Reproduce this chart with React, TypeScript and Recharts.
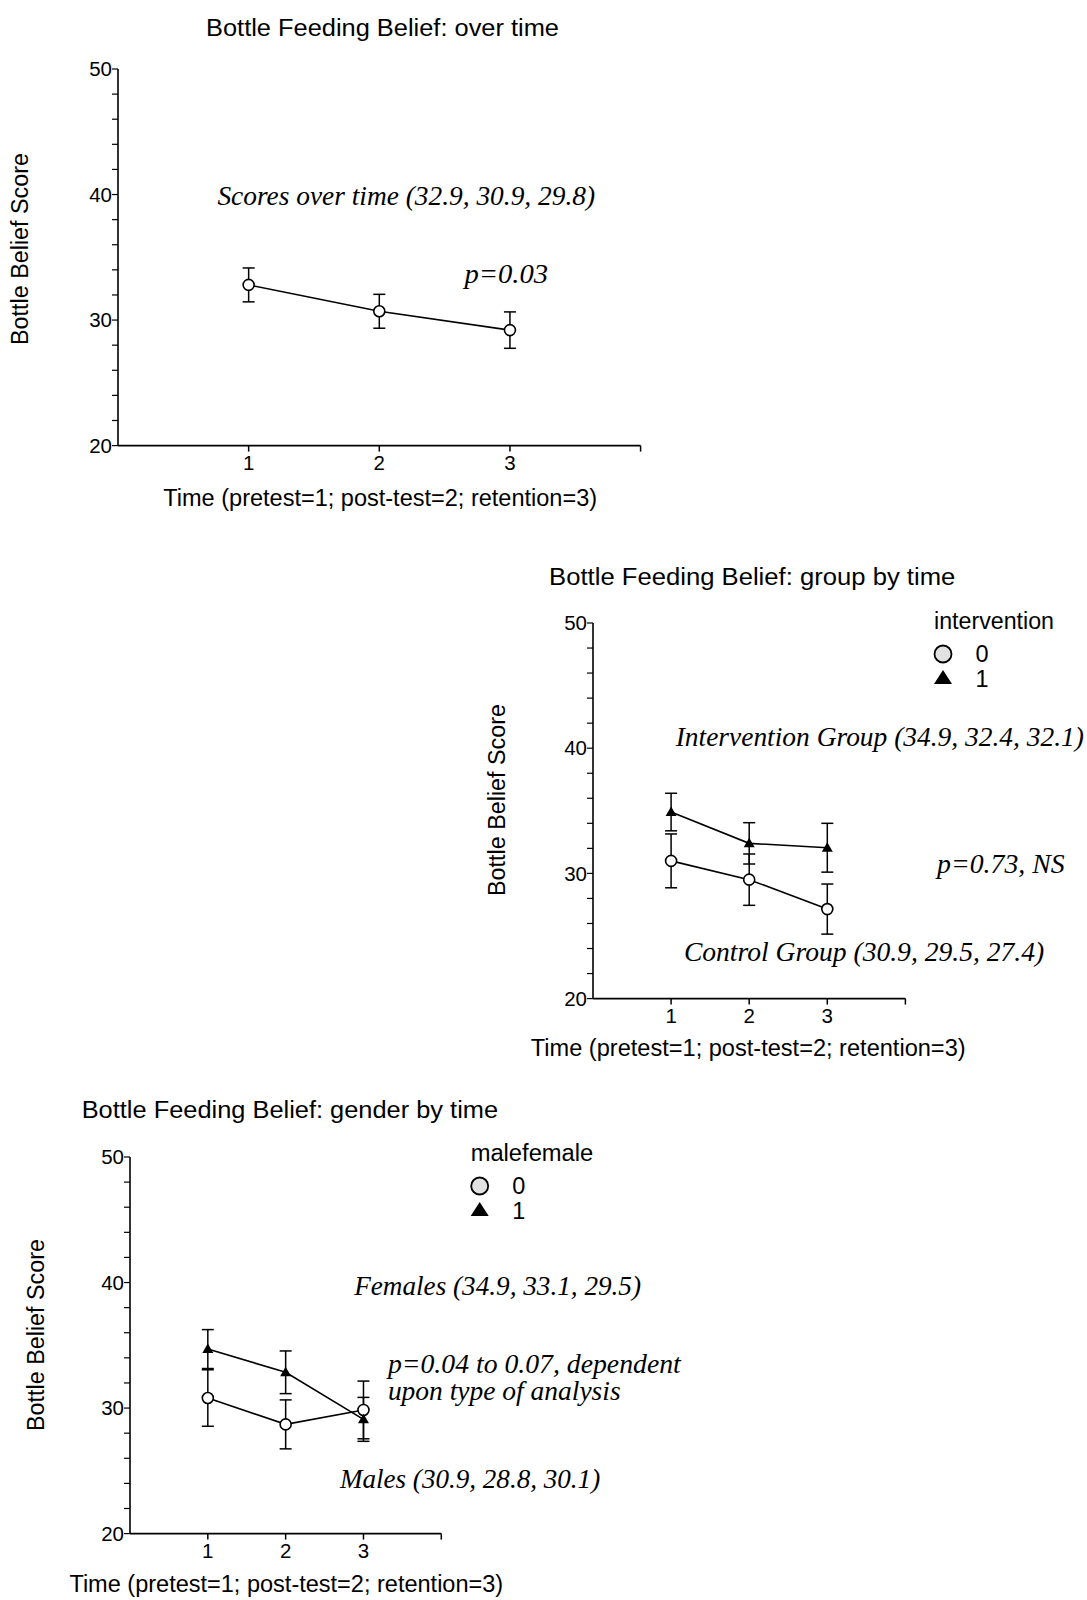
import { ErrorBar, Line, LineChart, XAxis, YAxis } from "recharts";

const SANS = "'Liberation Sans', Arial, sans-serif";
const SERIF = "'Liberation Serif', 'Times New Roman', serif";

const TIMES = [1, 2, 3];
const X_TICKS = [1, 2, 3, 4];
const Y_TICKS = [20, 22, 24, 26, 28, 30, 32, 34, 36, 38, 40, 42, 44, 46, 48, 50];

// over time
const OVERALL_MEAN = [32.8, 30.7, 29.2];
const OVERALL_ERR = [1.35, 1.35, 1.45];

// group by time
const CONTROL_MEAN = [31.0, 29.5, 27.15];
const CONTROL_ERR = [2.15, 2.05, 2.0];
const INTERV_MEAN = [34.9, 32.4, 32.05];
const INTERV_ERR = [1.5, 1.65, 1.95];

// gender by time
const MALE_MEAN = [30.8, 28.7, 29.85];
const MALE_ERR = [2.25, 1.95, 2.3];
const FEMALE_MEAN = [34.7, 32.85, 29.1];
const FEMALE_ERR = [1.55, 1.7, 1.75];

type Series = { mean: number[]; err: number[]; marker: "circle" | "triangle" };

function Triangle(props: any) {
  const { cx, cy } = props;
  if (cx == null || cy == null) return null;
  return <polygon points={`${cx},${cy - 5.5} ${cx - 5.5},${cy + 4} ${cx + 5.5},${cy + 4}`} fill="#000" />;
}

function Panel({
  left,
  top,
  w,
  h,
  series,
}: {
  left: number;
  top: number;
  w: number;
  h: number;
  series: Series[];
}) {
  const data = TIMES.map((t, i) => {
    const row: Record<string, number> = { t };
    series.forEach((s, k) => {
      row[`m${k}`] = s.mean[i];
      row[`e${k}`] = s.err[i];
    });
    return row;
  });
  const yW = 70;
  const xH = 45;
  const mt = 15;
  const mr = 15;
  return (
    <div style={{ position: "absolute", left: left - yW, top: top - mt }}>
      <LineChart width={w + yW + mr} height={h + mt + xH} data={data} margin={{ top: mt, right: mr, bottom: 0, left: 0 }}>
        <XAxis
          type="number"
          dataKey="t"
          domain={[0, 4]}
          ticks={X_TICKS}
          interval={0}
          height={xH}
          tickFormatter={(v) => (v === 4 ? "" : String(v))}
          axisLine={{ stroke: "#000", strokeWidth: 1.6 }}
          tickLine={{ stroke: "#000", strokeWidth: 1.5 }}
          tickSize={6}
          tickMargin={4}
          tick={{ fill: "#000", fontSize: 20.5, fontFamily: SANS }}
        />
        <YAxis
          type="number"
          domain={[20, 50]}
          ticks={Y_TICKS}
          interval={0}
          width={yW}
          tickFormatter={(v) => (v % 10 === 0 ? String(v) : "")}
          axisLine={{ stroke: "#000", strokeWidth: 1.6 }}
          tickLine={{ stroke: "#000", strokeWidth: 1.2 }}
          tickSize={6}
          tickMargin={0}
          tick={{ fill: "#000", fontSize: 20.5, fontFamily: SANS }}
        />
        {series.map((s, k) => (
          <Line
            key={k}
            type="linear"
            dataKey={`m${k}`}
            stroke="#000"
            strokeWidth={1.6}
            isAnimationActive={false}
            activeDot={false}
            dot={
              s.marker === "circle"
                ? { r: 5.5, fill: "#fff", stroke: "#000", strokeWidth: 1.6 }
                : (p: any) => <Triangle key={`tri-${k}-${p.index}`} {...p} />
            }
          >
            <ErrorBar dataKey={`e${k}`} direction="y" width={6} stroke="#000" strokeWidth={1.5} isAnimationActive={false} />
          </Line>
        ))}
      </LineChart>
    </div>
  );
}

function T({
  x,
  y,
  len,
  size = 23.5,
  italic = false,
  anchor = "start",
  children,
}: {
  x: number;
  y: number;
  len?: number;
  size?: number;
  italic?: boolean;
  anchor?: "start" | "middle";
  children: string;
}) {
  return (
    <text
      x={x}
      y={y}
      fontSize={size}
      fontFamily={italic ? SERIF : SANS}
      fontStyle={italic ? "italic" : "normal"}
      textAnchor={anchor}
      dominantBaseline="central"
      fill="#000"
      textLength={len}
      lengthAdjust={len ? "spacingAndGlyphs" : undefined}
    >
      {children}
    </text>
  );
}

function YLabel({ cx, cy }: { cx: number; cy: number }) {
  return (
    <text
      transform={`translate(${cx},${cy}) rotate(-90)`}
      fontSize={23.5}
      fontFamily={SANS}
      textAnchor="middle"
      dominantBaseline="central"
      fill="#000"
      textLength={192}
      lengthAdjust="spacingAndGlyphs"
    >
      Bottle Belief Score
    </text>
  );
}

function LegendBox({ x, y, title, titleLen }: { x: number; y: number; title: string; titleLen: number }) {
  // x,y: centre of the circle marker
  return (
    <g>
      <T x={x - 9} y={y - 33.5} len={titleLen}>
        {title}
      </T>
      <circle cx={x} cy={y} r={8.5} fill="#e2e2e2" stroke="#000" strokeWidth={1.8} />
      <T x={x + 39} y={y} anchor="middle">
        0
      </T>
      <polygon points={`${x},${y + 16} ${x - 9},${y + 30} ${x + 9},${y + 30}`} fill="#000" />
      <T x={x + 39} y={y + 24.5} anchor="middle">
        1
      </T>
    </g>
  );
}

export default function App() {
  return (
    <div style={{ position: "absolute", left: 0, top: 0, width: 1087, height: 1600, background: "#fff" }}>
      <Panel left={118.4} top={69.4} w={522.6} h={376.6} series={[{ mean: OVERALL_MEAN, err: OVERALL_ERR, marker: "circle" }]} />
      <Panel
        left={593}
        top={622.6}
        w={312.4}
        h={375.6}
        series={[
          { mean: CONTROL_MEAN, err: CONTROL_ERR, marker: "circle" },
          { mean: INTERV_MEAN, err: INTERV_ERR, marker: "triangle" },
        ]}
      />
      <Panel
        left={129.6}
        top={1156.5}
        w={311.3}
        h={376.6}
        series={[
          { mean: MALE_MEAN, err: MALE_ERR, marker: "circle" },
          { mean: FEMALE_MEAN, err: FEMALE_ERR, marker: "triangle" },
        ]}
      />
      <svg width={1087} height={1600} style={{ position: "absolute", left: 0, top: 0, pointerEvents: "none" }}>
        {/* over time */}
        <T x={206} y={27.6} len={353}>
          Bottle Feeding Belief: over time
        </T>
        <YLabel cx={20.4} cy={249} />
        <T x={217.4} y={196} len={377.7} size={27} italic>
          Scores over time (32.9, 30.9, 29.8)
        </T>
        <T x={464.4} y={273.5} len={83.7} size={27} italic>
          p=0.03
        </T>
        <T x={163.3} y={498} len={433.8}>
          Time (pretest=1; post-test=2; retention=3)
        </T>

        {/* group by time */}
        <T x={549.1} y={576.7} len={406.2}>
          Bottle Feeding Belief: group by time
        </T>
        <YLabel cx={497} cy={800} />
        <LegendBox x={943} y={654} title="intervention" titleLen={120} />
        <T x={675.7} y={737} len={408.3} size={27} italic>
          Intervention Group (34.9, 32.4, 32.1)
        </T>
        <T x={937} y={863.5} len={127.6} size={27} italic>
          p=0.73, NS
        </T>
        <T x={683.9} y={952.3} len={360.3} size={27} italic>
          Control Group (30.9, 29.5, 27.4)
        </T>
        <T x={530.8} y={1048.3} len={434.8}>
          Time (pretest=1; post-test=2; retention=3)
        </T>

        {/* gender by time */}
        <T x={81.7} y={1109.5} len={416.4}>
          Bottle Feeding Belief: gender by time
        </T>
        <YLabel cx={35.7} cy={1335} />
        <LegendBox x={479.7} y={1186} title="malefemale" titleLen={122.5} />
        <T x={354.2} y={1286} len={286.8} size={27} italic>
          Females (34.9, 33.1, 29.5)
        </T>
        <T x={387.9} y={1363.7} len={292.9} size={27} italic>
          p=0.04 to 0.07, dependent
        </T>
        <T x={387.9} y={1391.2} len={232.7} size={27} italic>
          upon type of analysis
        </T>
        <T x={339.9} y={1479} len={260.3} size={27} italic>
          Males (30.9, 28.8, 30.1)
        </T>
        <T x={69.4} y={1584} len={433.8}>
          Time (pretest=1; post-test=2; retention=3)
        </T>
      </svg>
    </div>
  );
}
